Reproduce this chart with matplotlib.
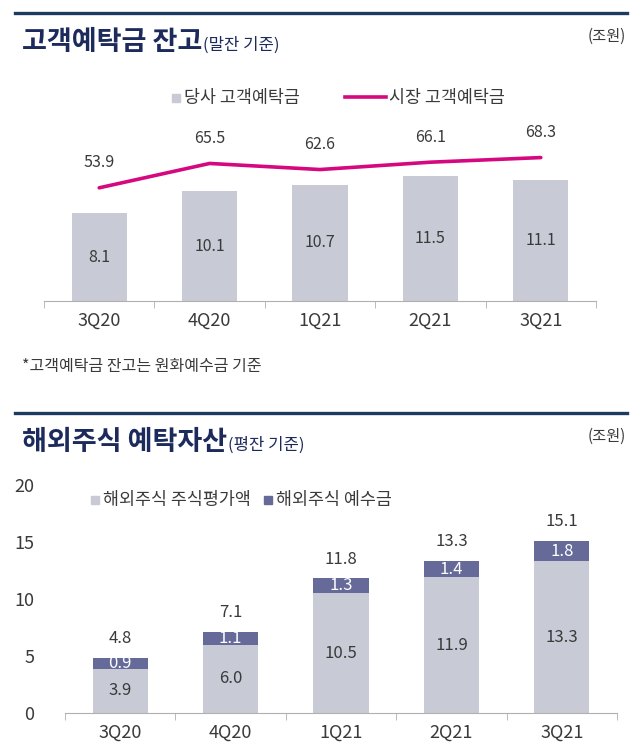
import matplotlib
matplotlib.use("Agg")
import matplotlib.pyplot as plt
from matplotlib.lines import Line2D
from matplotlib.patches import Rectangle
import numpy as np

plt.rcParams['font.family'] = ['Noto Sans CJK KR', 'DejaVu Sans']

# ---------------- data ----------------
quarters = ["3Q20", "4Q20", "1Q21", "2Q21", "3Q21"]
company_deposits = [8.1, 10.1, 10.7, 11.5, 11.1]      # 당사 고객예탁금
market_deposits = [53.9, 65.5, 62.6, 66.1, 68.3]      # 시장 고객예탁금
foreign_equity_value = [3.9, 6.0, 10.5, 11.9, 13.3]  # 해외주식 주식평가액
foreign_cash = [0.9, 1.1, 1.3, 1.4, 1.8]             # 해외주식 예수금
foreign_total = [4.8, 7.1, 11.8, 13.3, 15.1]
bottom_yticks = [0, 5, 10, 15, 20]

# ---------------- styles ----------------
W, H = 640, 755
NAVY = "#1c2a5c"
RULE = "#1f3a62"
BAR_GRAY = "#c8cad5"
DARK = "#666a99"
MAGENTA = "#d6087f"
TXT = "#3a3a3a"
AX = "#b0b0b0"

fig = plt.figure(figsize=(W / 100, H / 100), dpi=100)


def fx(x):
    return x / W


def fy(y):
    return 1 - y / H


def axes_px(left, top, right, bottom):
    return fig.add_axes([fx(left), fy(bottom), (right - left) / W, (bottom - top) / H])


# horizontal rules
for yy in (13, 413):
    fig.add_artist(Line2D([fx(15), fx(627)], [fy(yy), fy(yy)], color=RULE, lw=2.4))

# titles
def title(y, main, sub):
    t = fig.text(fx(22), fy(y), main, fontsize=19.5, fontweight='bold', color=NAVY,
                 va='baseline', ha='left')
    fig.canvas.draw()
    bb = t.get_window_extent()
    fig.text(bb.x1 / W + fx(1), fy(y), sub, fontsize=12, color=NAVY, va='baseline', ha='left')
    fig.text(fx(626), fy(y - 14), "(조원)", fontsize=11, color=TXT, va='center', ha='right')

title(50, "고객예탁금 잔고", "(말잔 기준)")
title(450, "해외주식 예탁자산", "(평잔 기준)")

# ---------------- top chart ----------------
ax1 = axes_px(44, 120, 596, 301)
x = np.arange(len(quarters))
ax1.bar(x, company_deposits, width=0.5, color=BAR_GRAY)
ax1.set_xlim(-0.5, len(quarters) - 0.5)
ax1.set_ylim(0, 181 / 10.86)
for xi, v in zip(x, company_deposits):
    ax1.text(xi, v / 2, f"{v:.1f}", ha='center', va='center', fontsize=11.5, color=TXT)

ax1b = ax1.twinx()
ax1b.plot(x, market_deposits, color=MAGENTA, lw=2.6, solid_capstyle='round')
ax1b.set_ylim(0, 181 / 2.1)
for xi, v in zip(x, market_deposits):
    ax1b.annotate(f"{v:.1f}", (xi, v), xytext=(0, 18), textcoords='offset points',
                  ha='center', va='center', fontsize=11.5, color=TXT)

for a in (ax1, ax1b):
    for s in ('top', 'right', 'left'):
        a.spines[s].set_visible(False)
    a.set_yticks([])
ax1b.spines['bottom'].set_visible(False)
ax1.spines['bottom'].set_color(AX)
ax1.set_xticks(x)
ax1.set_xticklabels(quarters, fontsize=13, color=TXT)
ax1.tick_params(axis='x', which='major', length=0, pad=8)
ax1.set_xticks(np.arange(-0.5, len(quarters), 1.0), minor=True)
ax1.tick_params(axis='x', which='minor', length=5, color=AX)

# top legend
fig.add_artist(Rectangle((fx(172), fy(102)), 8 / W, 8 / H, color=BAR_GRAY))
fig.text(fx(184), fy(98), "당사 고객예탁금", fontsize=12.5, color=TXT, va='center', ha='left')
fig.add_artist(Line2D([fx(345), fx(386)], [fy(97), fy(97)], color=MAGENTA, lw=2.6))
fig.text(fx(389), fy(98), "시장 고객예탁금", fontsize=12.5, color=TXT, va='center', ha='left')

# footnote
fig.text(fx(22), fy(366), "*고객예탁금 잔고는 원화예수금 기준", fontsize=11.5, color=TXT,
         va='center', ha='left')

# ---------------- bottom chart ----------------
ax2 = axes_px(65, 485, 617, 713)
ax2.bar(x, foreign_equity_value, width=0.5, color=BAR_GRAY)
ax2.bar(x, foreign_cash, width=0.5, bottom=foreign_equity_value, color=DARK)
ax2.set_xlim(-0.5, len(quarters) - 0.5)
ax2.set_ylim(0, 20)
for xi, a_, b_, t_ in zip(x, foreign_equity_value, foreign_cash, foreign_total):
    ax2.text(xi, a_ / 2, f"{a_:.1f}", ha='center', va='center', fontsize=12, color=TXT)
    ax2.text(xi, a_ + b_ / 2, f"{b_:.1f}", ha='center', va='center', fontsize=12, color='white')
    ax2.annotate(f"{t_:.1f}", (xi, a_ + b_), xytext=(0, 14), textcoords='offset points',
                 ha='center', va='center', fontsize=12, color=TXT)

for s in ('top', 'right', 'left'):
    ax2.spines[s].set_visible(False)
ax2.spines['bottom'].set_color(AX)
ax2.set_yticks(bottom_yticks)
ax2.set_yticklabels([str(v) for v in bottom_yticks], fontsize=13, color=TXT)
ax2.tick_params(axis='y', length=0, pad=22)
ax2.set_xticks(x)
ax2.set_xticklabels(quarters, fontsize=13, color=TXT)
ax2.tick_params(axis='x', which='major', length=0, pad=8)
ax2.set_xticks(np.arange(-0.5, len(quarters), 1.0), minor=True)
ax2.tick_params(axis='x', which='minor', length=5, color=AX)

# bottom legend
fig.add_artist(Rectangle((fx(91), fy(504)), 8 / W, 8 / H, color=BAR_GRAY))
fig.text(fx(103), fy(500), "해외주식 주식평가액", fontsize=12.5, color=TXT, va='center', ha='left')
fig.add_artist(Rectangle((fx(264), fy(504)), 8 / W, 8 / H, color=DARK))
fig.text(fx(276), fy(500), "해외주식 예수금", fontsize=12.5, color=TXT, va='center', ha='left')

fig.savefig("out.png", dpi=100)
